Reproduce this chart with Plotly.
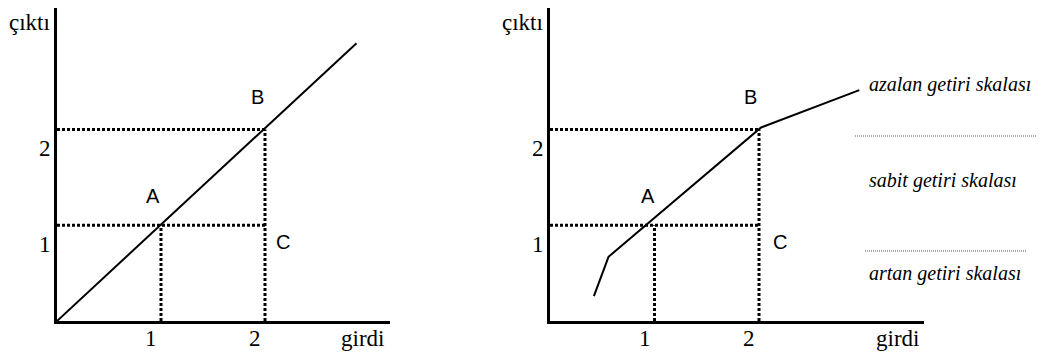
import plotly.graph_objects as go

# ---------------- data ----------------
left_x = [0.0, 2.88]                 # constant returns line
left_y = [0.0, 2.90]
right_x = [0.42, 0.56, 2.02, 2.96]   # kinked production curve
right_y = [0.26, 0.67, 2.02, 2.41]
point_A = (1, 1)
point_B = (2, 2)
point_C = (2, 1)
tick_vals = [1, 2]
tick_text = ["1", "2"]
x_title = "girdi"
y_title = "çıktı"
point_labels = ["A", "B", "C"]
region_labels = ["azalan getiri skalası", "sabit getiri skalası", "artan getiri skalası"]

# ---------------- layout helpers ----------------
PAGE_W, PAGE_H = 1045, 358
OFF = 8                      # default body margin of the page
W, H = PAGE_W - OFF, PAGE_H - OFF
SERIF = "'Liberation Serif', 'Times New Roman', Times, serif"
SANS = "'Liberation Sans', Arial, sans-serif"


def px_x(p):
    return (p - OFF) / W


def px_y(p):
    return min(1.0, max(0.0, 1 - (p - OFF) / H))


fig = go.Figure()

DOT = "3px,2px"


def add_panel(xs, ys, xa, ya):
    # guide lines built from points A and B
    ax_, ay_ = point_A
    bx_, by_ = point_B
    guides = [
        ([0, bx_], [ay_, ay_]),
        ([0, bx_], [by_, by_]),
        ([ax_, ax_], [0, ay_]),
        ([bx_, bx_], [0, by_]),
    ]
    for gx, gy in guides:
        fig.add_trace(go.Scatter(x=gx, y=gy, mode="lines", xaxis=xa, yaxis=ya,
                                 line=dict(color="black", width=3, dash=DOT),
                                 showlegend=False, hoverinfo="skip"))
    fig.add_trace(go.Scatter(x=xs, y=ys, mode="lines", xaxis=xa, yaxis=ya,
                             line=dict(color="black", width=2),
                             showlegend=False, hoverinfo="skip"))


add_panel(left_x, left_y, "x", "y")
add_panel(right_x, right_y, "x2", "y2")

XU_L, XU_R, YU = 104.0, 104.5, 95.8
TOP = 8
axis_common = dict(showline=True, linewidth=3, linecolor="black", showgrid=False,
                   zeroline=False, showticklabels=False, ticks="", fixedrange=True)

fig.update_layout(
    width=W, height=H,
    margin=dict(l=0, r=0, t=0, b=0),
    paper_bgcolor="white", plot_bgcolor="white",
    showlegend=False,
    font=dict(family=SERIF),
    xaxis=dict(domain=[px_x(57), px_x(390)], range=[0, (390 - 57) / XU_L], anchor="y",
               **axis_common),
    yaxis=dict(domain=[px_y(321), px_y(TOP)], range=[0, (321 - TOP) / YU], anchor="x",
               **axis_common),
    xaxis2=dict(domain=[px_x(550), px_x(924)], range=[0, (924 - 550) / XU_R], anchor="y2",
                **axis_common),
    yaxis2=dict(domain=[px_y(321), px_y(TOP)], range=[0, (321 - TOP) / YU], anchor="x2",
                **axis_common),
)

ann = []
label_font = dict(family=SANS, size=20, color="black")
title_font = dict(family=SERIF, size=23, color="black")
for xa, ya, offs in [("x", "y", [(-8, 29), (-8, 32), (18, -17)]),
                     ("x2", "y2", [(-7, 29), (-9, 32), (21, -17)])]:
    # tick labels (offset from the guide lines as in the source figure)
    for tv, tt in zip(tick_vals, tick_text):
        ann.append(dict(x=tv, y=0, xref=xa, yref=f"{ya} domain", text=tt,
                        showarrow=False, xanchor="center", yanchor="middle",
                        xshift=-10, yshift=-17, font=title_font))
        ann.append(dict(x=0, y=tv, xref=f"{xa} domain", yref=ya, text=tt,
                        showarrow=False, xanchor="right", yanchor="middle",
                        xshift=-4, yshift=-19, font=title_font))
    for lab, pt, (dx, dy) in zip(point_labels, [point_A, point_B, point_C], offs):
        ann.append(dict(x=pt[0], y=pt[1], xref=xa, yref=ya, text=lab, showarrow=False,
                        xshift=dx, yshift=dy, font=label_font,
                        xanchor="center", yanchor="middle"))
    ann.append(dict(x=0, y=1, xref=f"{xa} domain", yref=f"{ya} domain", text=y_title,
                    showarrow=False, xanchor="right", yanchor="middle",
                    xshift=-5, yshift=-(22 - TOP), font=title_font))
    ann.append(dict(x=1, y=0, xref=f"{xa} domain", yref=f"{ya} domain", text=x_title,
                    showarrow=False, xanchor="center", yanchor="middle",
                    xshift=-27, yshift=-17, font=title_font))

ital = dict(family=SERIF, size=20, color="black", style="italic")
for lab, ypx in zip(region_labels, [85, 181, 273]):
    ann.append(dict(x=px_x(867), y=px_y(ypx), xref="paper", yref="paper", text=lab,
                    showarrow=False, xanchor="left", yanchor="middle", font=ital))
fig.update_layout(annotations=ann)

# thin dotted separators between region labels
for x0, x1, ypx in [(855, 1038, 136), (865, 1027, 251)]:
    fig.add_shape(type="line", xref="paper", yref="paper",
                  x0=px_x(x0), x1=px_x(x1), y0=px_y(ypx), y1=px_y(ypx),
                  line=dict(color="#555555", width=1, dash="1px,1px"))

fig.write_html("out.html", config={"displayModeBar": False})
